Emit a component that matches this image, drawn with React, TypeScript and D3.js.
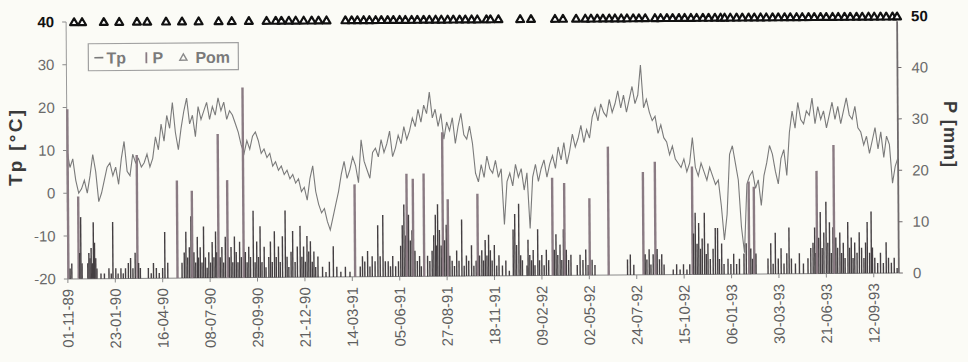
import React from "react";
import * as d3 from "d3";

const W = 968;
const H = 362;

const startDate = "01-11-89";
const endDate = "26-10-93";
const dateTickLabels = [
  "01-11-89", "23-01-90", "16-04-90", "08-07-90", "29-09-90", "21-12-90",
  "14-03-91", "05-06-91", "27-08-91", "18-11-91", "09-02-92", "02-05-92",
  "24-07-92", "15-10-92", "06-01-93", "30-03-93", "21-06-93", "12-09-93",
];
const tempTicks = [-20, -10, 0, 10, 20, 30, 40];
const rainTicks = [0, 10, 20, 30, 40, 50];

// Air temperature Tp [°C], one reading every 5 days from the start date
const tempStepDays = 5;
const tempValues = [
  10, 6, 8, 3, 0, 1, 3, 0, 4, 9,
  5, -2, 0, 3, 6, 7, 4, 6, 2, 8,
  12, 5, 4, 9, 7, 8, 6, 7, 9, 6,
  8, 13, 10, 16, 12, 18, 15, 21, 14, 10,
  15, 19, 22, 16, 18, 13, 20, 17, 19, 21,
  17, 20, 18, 22, 19, 21, 17, 19, 18, 16,
  14, 11, 9, 12, 10, 13, 14, 12, 9, 10,
  8, 9, 6, 7, 5, 6, 4, 5, 3, 4,
  2, 3, 0, 1, -2, 3, 6, 0, -3, -5,
  -4, -7, -9, -6, -3, 0, 4, 7, 3, 5,
  8, 6, 2, 12, 7, 5, 3, 9, 10, 8,
  12, 9, 11, 14, 8, 10, 13, 11, 15, 12,
  14, 17, 15, 19, 16, 20, 18, 23, 17, 19,
  15, 18, 12, 16, 14, 17, 11, 15, 18, 13,
  12, 15, 11, 4, 2, 6, 3, 8, 5, 4,
  7, 3, 5, -8, 2, 4, 1, 6, 3, 5,
  0, 4, -9, 3, 6, 2, 5, 7, 3, 6,
  8, 5, 10, 7, 11, 6, 9, 13, 10, 12,
  15, 11, 14, 12, 17, 19, 16, 20, 18, 17,
  21, 18, 20, 23, 19, 22, 18, 21, 24, 20,
  22, 29, 19, 21, 18, 16, 17, 13, 15, 12,
  11, 8, 10, 7, 6, 5, 7, 4, 6, 12,
  5, 3, 6, 4, 2, 5, 3, 1, 2, -4,
  -12, -6, 8, 10, 6, 2, -9, -15, 1, 3,
  4, 0, 2, -4, 3, 6, 10, 8, 4, 1,
  7, 9, 3, 13, 18, 14, 20, 16, 15, 18,
  17, 21, 15, 19, 16, 18, 14, 17, 20, 16,
  19, 15, 18, 21, 17, 16, 19, 14, 13, 10,
  12, 8, 11, 14, 9, 13, 7, 12, 10, 1,
  5, 7,
];

// Precipitation P [mm]: [day offset from start, mm]
const rainEvents: [number, number][] = [
  [1, 33], [4, 2], [7, 3], [19, 16], [21, 5], [23, 12], [25, 3],
  [35, 3], [37, 5], [39, 4], [41, 6], [43, 3], [45, 11], [47, 7], [49, 4], [51, 2],
  [58, 1], [64, 1], [72, 2], [76, 1], [79, 11], [84, 2], [88, 1], [93, 2], [97, 1], [101, 2],
  [106, 3], [110, 4], [114, 2], [118, 5], [122, 24], [124, 3], [127, 2],
  [141, 2], [146, 1], [150, 3], [155, 2], [160, 1], [166, 2], [170, 9], [175, 3], [192, 19],
  [200, 3], [204, 5], [207, 9], [210, 4], [213, 6], [216, 12], [218, 17], [221, 5], [224, 3],
  [227, 8], [229, 4], [232, 6], [235, 3], [238, 10], [241, 4], [244, 2],
  [247, 5], [250, 3], [253, 7], [256, 4], [259, 9], [261, 5], [264, 28], [267, 4], [270, 6],
  [273, 3], [276, 8], [280, 19], [283, 4], [286, 6], [289, 3], [292, 8], [295, 5], [298, 3],
  [301, 7], [304, 4], [308, 37], [311, 5], [314, 3], [317, 6], [320, 4], [325, 13], [328, 3],
  [331, 7], [334, 4], [337, 10], [340, 3], [344, 6], [347, 2], [352, 4], [355, 7], [358, 3],
  [362, 9], [365, 4], [369, 6], [372, 3], [376, 8], [381, 13], [384, 4], [387, 2],
  [391, 5], [394, 9], [398, 3], [402, 6], [407, 10], [410, 4], [413, 6], [416, 3], [419, 8],
  [422, 5], [425, 7], [428, 3], [431, 5], [434, 2], [438, 4],
  [446, 2], [452, 1], [458, 3], [465, 6], [471, 2], [478, 1], [486, 2], [494, 1], [503, 18],
  [512, 2], [516, 4], [520, 3], [525, 5], [529, 2], [533, 4], [538, 3],
  [543, 10], [547, 4], [552, 12], [556, 3], [561, 3], [565, 2], [569, 4], [574, 2], [579, 3],
  [583, 6], [586, 10], [589, 14], [592, 8], [594, 20], [597, 12], [600, 7], [603, 9], [605, 19],
  [608, 5], [612, 3], [616, 4], [619, 2], [624, 20], [630, 4], [634, 3], [638, 5],
  [641, 8], [644, 12], [646, 6], [648, 14], [651, 9], [654, 6], [657, 28], [660, 7], [663, 10],
  [666, 15], [669, 4], [673, 3], [677, 2], [681, 5], [685, 3], [690, 11], [694, 2], [698, 4],
  [702, 3], [707, 6], [711, 2], [715, 3], [718, 16], [721, 4],
  [725, 5], [728, 3], [731, 7], [734, 4], [737, 8], [740, 5], [743, 3], [747, 6], [751, 2], [755, 4],
  [761, 2], [767, 3], [773, 1], [780, 9], [783, 12], [786, 6], [790, 14], [793, 4], [796, 3],
  [804, 2], [806, 7], [809, 4], [812, 3], [815, 5], [818, 2], [823, 9], [826, 3], [830, 4],
  [834, 2], [838, 5], [842, 3], [849, 19], [852, 5], [855, 8], [858, 4], [862, 6], [865, 3],
  [868, 9], [870, 18], [873, 5], [877, 3], [881, 4],
  [892, 2], [897, 4], [902, 3], [907, 5], [911, 2], [914, 15], [918, 3], [923, 2], [947, 25],
  [980, 3], [985, 4], [991, 2], [1008, 20], [1011, 4], [1014, 3], [1018, 5], [1021, 2], [1025, 4],
  [1029, 22], [1032, 5], [1036, 3], [1040, 4], [1044, 2],
  [1060, 1], [1066, 2], [1072, 1], [1078, 2], [1084, 1], [1089, 2],
  [1094, 21], [1096, 8], [1099, 12], [1102, 6], [1105, 10], [1108, 5], [1111, 7], [1115, 12],
  [1118, 4], [1121, 6], [1125, 3], [1130, 5], [1134, 9], [1138, 9], [1141, 3], [1145, 6], [1149, 2],
  [1156, 3], [1161, 2], [1166, 4], [1171, 2], [1176, 3],
  [1184, 4], [1188, 6], [1193, 18], [1196, 5], [1199, 3], [1202, 17], [1205, 4],
  [1226, 3], [1231, 6], [1235, 2], [1239, 8], [1244, 3], [1249, 5], [1254, 2], [1259, 4], [1263, 9], [1267, 3],
  [1274, 2], [1281, 4], [1288, 2], [1296, 3], [1301, 5],
  [1305, 6], [1308, 9], [1310, 4], [1312, 20], [1315, 7], [1318, 12], [1321, 5], [1324, 8],
  [1328, 14], [1331, 6], [1334, 10], [1337, 4], [1340, 9], [1342, 25], [1345, 7], [1348, 5],
  [1352, 8], [1355, 4], [1358, 6], [1361, 3],
  [1366, 10], [1369, 5], [1372, 7], [1375, 3], [1378, 6], [1382, 4], [1386, 8], [1390, 5],
  [1394, 3], [1397, 6], [1400, 10], [1404, 4], [1407, 12], [1409, 5],
  [1413, 3], [1418, 2], [1423, 4], [1428, 2], [1433, 6], [1437, 3], [1442, 2], [1447, 3], [1452, 1],
];

// Measurement dates (Pom), day offsets from start
const pomDays = [
  14, 28, 66, 93, 124, 142, 175, 203, 232, 267, 290, 320, 351, 367, 377, 390, 402, 416,
  430, 442, 456, 489, 500, 510, 521, 531, 542, 552, 563, 573, 584, 594, 605, 615, 626,
  636, 647, 657, 668, 678, 689, 699, 710, 720, 736, 743, 757, 795, 814, 856, 870, 893,
  909, 919, 930, 940, 951, 961, 972, 982, 993, 1003, 1014, 1031, 1041, 1052, 1062, 1073,
  1083, 1094, 1104, 1115, 1125, 1136, 1146, 1153, 1163, 1174, 1184, 1195, 1205, 1216,
  1226, 1237, 1247, 1258, 1268, 1279, 1289, 1300, 1310, 1321, 1331, 1342, 1352, 1363,
  1373, 1384, 1394, 1405, 1415, 1426, 1436, 1447, 1455,
];

const FONT = "'Liberation Sans', Arial, sans-serif";

export default function App() {
  const parse = d3.utcParse("%d-%m-%y");
  const t0 = parse(startDate) as Date;
  const t1 = parse(endDate) as Date;
  const left = 67, right = 898, top = 19, bottom = 276;

  const x = d3.scaleUtc().domain([t0, t1]).range([left, right]);
  const yT = d3.scaleLinear().domain([-20, 40]).range([bottom, top]);
  const yP = d3.scaleLinear().domain([0, 50]).range([bottom, top]);
  const dayToDate = (d: number) => d3.utcDay.offset(t0, d);

  const tempLine = d3
    .line<number>()
    .x((_, i) => x(dayToDate(i * tempStepDays)))
    .y((v) => yT(v));

  const triPath = d3.symbol().type(d3.symbolTriangle).size(27)() as string;
  const legendTri = d3.symbol().type(d3.symbolTriangle).size(22)() as string;

  return (
    <svg
      width={W}
      height={H}
      style={{ position: "absolute", left: 0, top: 0, display: "block" }}
      fontFamily={FONT}
    >
      <rect x={0} y={0} width={W} height={H} fill="#fbfbf6" />
      <g transform={`rotate(-0.4, ${(left + right) / 2}, 150)`}>
        {/* axis lines */}
        <line x1={left} x2={left} y1={top} y2={bottom} stroke="#9a9a9a" strokeWidth={1} />
        <line x1={right} x2={right} y1={yP(49)} y2={bottom} stroke="#6f6a6c" strokeWidth={1.8} />
        <line x1={left} x2={right} y1={bottom} y2={bottom} stroke="#8a8a8a" strokeWidth={1} />

        {/* temperature line */}
        <path d={tempLine(tempValues) as string} fill="none" stroke="#7a7a7a" strokeWidth={1.1} />

        {/* precipitation bars */}
        {rainEvents.map(([d, mm], i) => {
          const cx = x(dayToDate(d));
          const tall = mm >= 15;
          const w = tall ? 2.4 : 1.4;
          return (
            <rect
              key={i}
              x={cx - w / 2}
              width={w}
              y={yP(mm)}
              height={yP(0) - yP(mm)}
              fill={tall ? "#8a7b83" : "#443f42"}
            />
          );
        })}

        {/* measurement markers */}
        {pomDays.map((d, i) => (
          <path
            key={i}
            d={triPath}
            transform={`translate(${x(dayToDate(d))},${yT(40) + 1})`}
            fill="#ffffff"
            stroke="#111"
            strokeWidth={2.2}
            strokeLinejoin="round"
          />
        ))}

        {/* left axis ticks */}
        {tempTicks.map((t) => (
          <g key={t}>
            <line x1={left - 4} x2={left} y1={yT(t)} y2={yT(t)} stroke="#8a8a8a" />
            <text
              x={left - 12}
              y={yT(t)}
              dy="0.35em"
              textAnchor="end"
              fontSize={15}
              fontWeight={t === 40 ? "bold" : "normal"}
              fill={t === 40 ? "#111" : "#6a6a6a"}
            >
              {t}
            </text>
          </g>
        ))}

        {/* right axis ticks */}
        {rainTicks.map((t) => (
          <g key={t}>
            {t < 50 && (
              <line x1={right} x2={right + 4} y1={yP(t)} y2={yP(t)} stroke="#6f6a6c" />
            )}
            <text
              x={right + 14}
              y={yP(t)}
              dy="0.35em"
              textAnchor="start"
              fontSize={15}
              fontWeight={t === 50 ? "bold" : "normal"}
              fill={t === 50 ? "#111" : "#6a6a6a"}
            >
              {t}
            </text>
          </g>
        ))}

        {/* bottom axis ticks and labels */}
        {dateTickLabels.map((lab) => {
          const tx = x(parse(lab) as Date);
          return (
            <g key={lab}>
              <line x1={tx} x2={tx} y1={bottom} y2={bottom + 4} stroke="#8a8a8a" />
              <text
                transform={`translate(${tx},${bottom + 10}) rotate(-90)`}
                dy="0.35em"
                textAnchor="end"
                fontSize={15}
                fill="#5e5e5e"
              >
                {lab}
              </text>
            </g>
          );
        })}

        {/* legend */}
        <rect x={89} y={41} width={150} height={27} fill="none" stroke="#a0a0a0" strokeWidth={1.2} />
        <line x1={95} x2={104} y1={55} y2={55} stroke="#7a7a7a" strokeWidth={1.6} />
        <text x={107} y={61} fontSize={16} fontWeight="bold" fill="#7a7a7a">Tp</text>
        <line x1={147} x2={147} y1={50} y2={61} stroke="#8a7b83" strokeWidth={1.8} />
        <text x={153} y={61} fontSize={16} fontWeight="bold" fill="#7a7a7a">P</text>
        <path d={legendTri} transform="translate(184,56)" fill="none" stroke="#8a8a8a" strokeWidth={1.4} />
        <text x={196} y={61} fontSize={16} fontWeight="bold" fill="#7a7a7a">Pom</text>
      </g>

      {/* axis titles */}
      <text
        transform="translate(22,148) rotate(-90)"
        textAnchor="middle"
        fontSize={19}
        fontWeight="bold"
        fill="#3a3a3a"
        textLength={76}
        lengthAdjust="spacing"
      >
        Tp [°C]
      </text>
      <text
        transform="translate(944,134) rotate(90)"
        textAnchor="middle"
        fontSize={18}
        fontWeight="bold"
        fill="#3a3a3a"
        textLength={66}
        lengthAdjust="spacing"
      >
        P [mm]
      </text>
    </svg>
  );
}
